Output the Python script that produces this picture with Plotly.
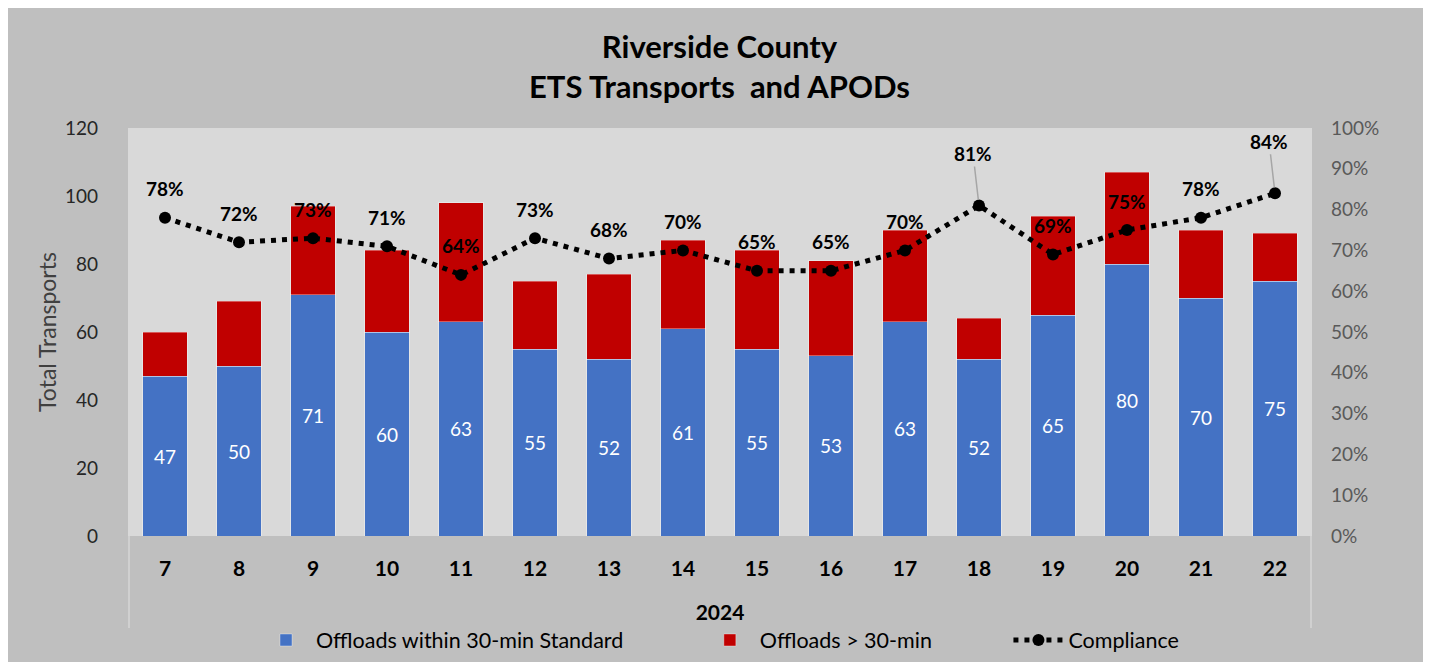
import plotly.graph_objects as go

weeks = ["7", "8", "9", "10", "11", "12", "13", "14", "15", "16", "17", "18", "19", "20", "21", "22"]
within_30 = [47, 50, 71, 60, 63, 55, 52, 61, 55, 53, 63, 52, 65, 80, 70, 75]
over_30 = [13, 19, 26, 24, 35, 20, 25, 26, 29, 28, 27, 12, 29, 27, 20, 14]
compliance = [0.78, 0.72, 0.73, 0.71, 0.64, 0.73, 0.68, 0.70, 0.65, 0.65, 0.70, 0.81, 0.69, 0.75, 0.78, 0.84]
leader_weeks = ["18", "22"]

FONT = "Lato"
OFF = 8  # page body margin offset
W, H = 1431 - OFF, 662 - OFF
L, T = 128 - OFF, 128 - OFF
R = W - (1312 - OFF)
B = H - (536 - OFF)
PW, PH = W - L - R, H - T - B
NB = "\u00a0"

def px_x(p):
    return (p - OFF - L) / PW

def px_y(p):
    return (H - B - (p - OFF)) / PH

fig = go.Figure()
fig.add_trace(go.Bar(
    x=weeks, y=within_30, name="Offloads within 30-min Standard" + NB * 13,
    marker=dict(color="#4472C4", line=dict(color="rgba(255,255,255,0.35)", width=1)),
    text=[str(v) for v in within_30], textposition="inside", insidetextanchor="middle",
    textfont=dict(color="white", size=19, family=FONT),
))
fig.add_trace(go.Bar(
    x=weeks, y=over_30, name="Offloads > 30-min" + NB * 13,
    marker=dict(color="#C00000", line=dict(color="rgba(255,255,255,0.35)", width=1)),
))
fig.add_trace(go.Scatter(
    x=weeks, y=compliance, name="Compliance", yaxis="y2", mode="lines+markers",
    line=dict(color="black", width=5, dash="5px,6px"),
    marker=dict(color="black", size=12),
))

for i, (w, c) in enumerate(zip(weeks, compliance)):
    txt = f"{round(c * 100)}%"
    if w in leader_weeks:
        fig.add_annotation(x=i, y=c, xref="x", yref="y2", text=f"<b>{txt}</b>", showarrow=True,
                           ax=-6, ay=-52, arrowhead=0, arrowwidth=1.5, arrowcolor="#a6a6a6",
                           standoff=6, font=dict(size=19, family=FONT, color="black"))
    else:
        fig.add_annotation(x=i, y=c, xref="x", yref="y2", text=f"<b>{txt}</b>", showarrow=False,
                           yshift=29, font=dict(size=19, family=FONT, color="black"))

# outer light border strip on the right, plot-area box
fig.add_shape(type="rect", xref="paper", yref="paper", layer="below",
              x0=px_x(1425), x1=px_x(1440), y0=px_y(670), y1=px_y(-10),
              fillcolor="#f2f2f2", line=dict(width=0))
fig.add_shape(type="rect", xref="paper", yref="paper", layer="below",
              x0=0, x1=1, y0=0, y1=1, fillcolor="#d9d9d9", line=dict(width=0))
for xp in (129, 1311):
    fig.add_shape(type="line", xref="paper", yref="paper", layer="below",
                  x0=px_x(xp), x1=px_x(xp), y0=px_y(536), y1=px_y(628),
                  line=dict(color="#d0d0d0", width=2))

fig.update_layout(
    width=W, height=H,
    margin=dict(l=L, r=R, t=T, b=B, autoexpand=False),
    paper_bgcolor="#bfbfbf", plot_bgcolor="#d9d9d9",
    barmode="stack", bargap=0.4,
    font=dict(family=FONT, color="#000000"),
    title=dict(text="<b>Riverside County<br>ETS Transports  and APODs</b>",
               x=0.5, xanchor="center", y=1 - 50 / H, yanchor="middle",
               font=dict(size=31, family=FONT, color="black")),
    xaxis=dict(type="category", range=[-0.5, len(weeks) - 0.5], showgrid=False, zeroline=False, showline=False,
               tickfont=dict(size=21, family=FONT, color="black", weight="bold"),
               ticklabelstandoff=18,
               title=dict(text="<b>2024</b>", font=dict(size=21, family=FONT, color="black"), standoff=26)),
    yaxis=dict(range=[0, 120], dtick=20, showgrid=False, zeroline=False, showline=False,
               tickfont=dict(size=19, family=FONT, color="#262626"), ticklabelstandoff=29,
               title=dict(text="Total Transports", font=dict(size=23, family=FONT, color="#404040"), standoff=1)),
    yaxis2=dict(range=[0, 1], dtick=0.1, tickformat=".0%", overlaying="y", side="right",
                showgrid=False, zeroline=False, showline=False,
                tickfont=dict(size=19, family=FONT, color="#595959"), ticklabelstandoff=18),
    legend=dict(orientation="h", x=0.5, xanchor="center", y=px_y(640), yanchor="middle",
                font=dict(size=21.5, family=FONT, color="black"), bgcolor="rgba(0,0,0,0)",
                itemwidth=50, traceorder="normal"),
    showlegend=True,
)

fig.write_html("out.html")
